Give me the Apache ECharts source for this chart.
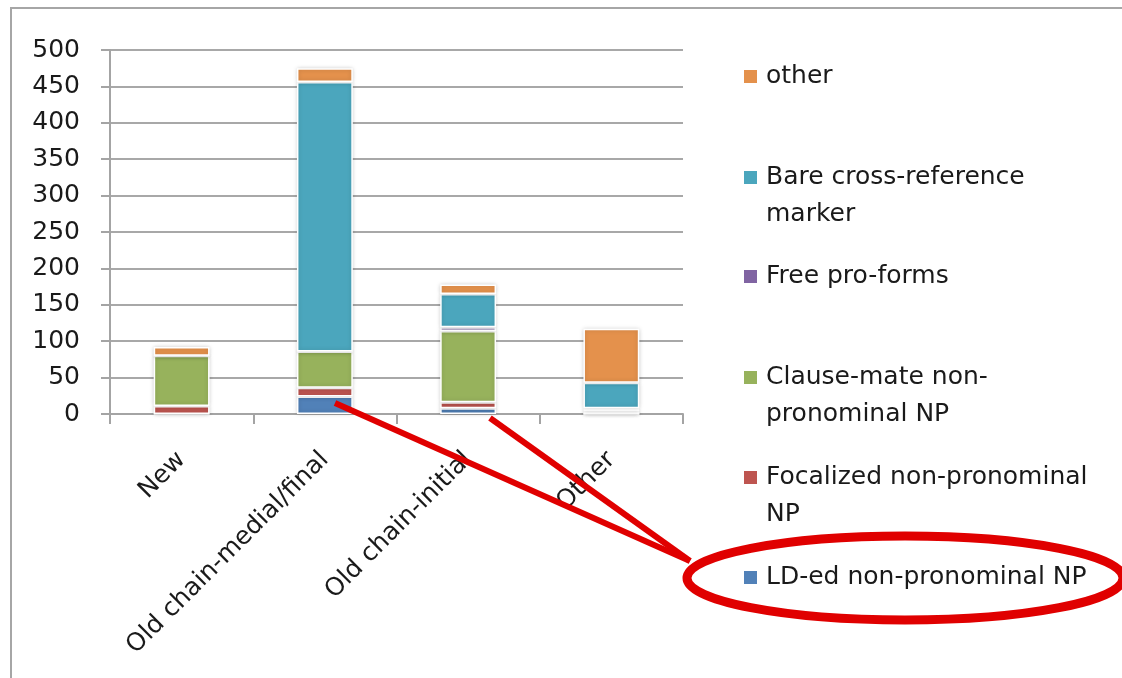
<!DOCTYPE html>
<html>
<head>
<meta charset="utf-8">
<script src="https://cdn.jsdelivr.net/npm/echarts@6/dist/echarts.min.js"></script>
<style>
  html, body { margin: 0; padding: 0; background: #fff; }
  #chart { width: 1122px; height: 678px; }
</style>
</head>
<body>
<div id="chart"></div>
<script>
// categories on the x axis
const categories = ['New', 'Old chain-medial/final', 'Old chain-initial', 'Other']

// stacked series, bottom to top
const ldEd = [0, 24, 8, 0]
const focalized = [11, 12, 8, 0]
const clauseMate = [69, 50, 98, 4]
const freeProForms = [0, 0, 5, 4]
const bareMarker = [0, 370, 46, 35]
const otherVals = [12, 19, 13, 74]

const seriesNames = [
  'LD-ed non-pronominal NP',
  'Focalized non-pronominal NP',
  'Clause-mate non-pronominal NP',
  'Free pro-forms',
  'Bare cross-reference marker',
  'other',
]
// legend text as it wraps in the picture
const legendLabels = [
  'LD-ed non-pronominal NP',
  'Focalized non-pronominal\nNP',
  'Clause-mate non-\npronominal NP',
  'Free pro-forms',
  'Bare cross-reference\nmarker',
  'other',
]
const seriesData = [ldEd, focalized, clauseMate, freeProForms, bareMarker, otherVals]
const colors = ['#5181b8', '#be5550', '#97b25c', '#8064a2', '#4ba6bd', '#e4914c']

const FONT = 'DejaVu Sans'
const LINE_H = 37
// marker top (px) of each legend entry
const markerTops = [570, 470, 370, 269, 170, 69]

const chart = echarts.init(document.getElementById('chart'))

const series = seriesNames.map((name, i) => ({
  name: name,
  type: 'bar',
  stack: 'total',
  barWidth: '39%',
  data: seriesData[i],
  itemStyle: {
    color: colors[i],
    borderColor: '#fff',
    borderWidth: 1.5,
    shadowBlur: 4,
    shadowColor: 'rgba(0,0,0,0.18)',
  },
}))

// one legend per entry so they sit evenly spaced like the original.
// two-line entries get an empty first line so the marker lines up with line 1
const legends = seriesNames.map((name, i) => {
  const twoLines = legendLabels[i].indexOf('\n') >= 0
  const label = twoLines ? ' \n' + legendLabels[i] : legendLabels[i]
  return {
    data: [name],
    left: 742,
    top: twoLines ? markerTops[i] - 48 : markerTops[i] - 11,
    orient: 'vertical',
    padding: 0,
    icon: 'rect',
    itemWidth: 15,
    itemHeight: 15,
    selectedMode: false,
    formatter: () => label,
    textStyle: {
      fontFamily: FONT,
      fontSize: 25,
      color: '#1a1a1a',
      lineHeight: LINE_H,
      padding: [0, 0, 0, 3],
    },
  }
})

const option = {
  animation: false,
  textStyle: { fontFamily: FONT },
  color: colors,
  legend: legends,
  grid: {
    left: 110,
    right: 439,
    top: 50,
    bottom: 264,
  },
  xAxis: {
    type: 'category',
    data: categories,
    axisLine: { lineStyle: { color: '#a4a4a4', width: 2 } },
    axisTick: { show: true, length: 10, lineStyle: { color: '#a4a4a4', width: 2 } },
    axisLabel: {
      interval: 0,
      rotate: 45,
      margin: 42,
      fontFamily: FONT,
      fontSize: 25,
      color: '#1a1a1a',
    },
  },
  yAxis: {
    type: 'value',
    min: 0,
    max: 500,
    interval: 50,
    axisLine: { show: true, lineStyle: { color: '#a4a4a4', width: 2 } },
    axisTick: { show: true, length: 9, lineStyle: { color: '#a4a4a4', width: 2 } },
    splitLine: { lineStyle: { color: '#a8a8a8', width: 2 } },
    axisLabel: {
      margin: 30,
      fontFamily: FONT,
      fontSize: 25,
      color: '#1a1a1a',
    },
  },
  series: series,
  graphic: [
    // frame of the original slide
    {
      type: 'polyline',
      shape: { points: [[11, 678], [11, 8], [1122, 8]] },
      style: { stroke: '#a6a6a6', lineWidth: 2, fill: null },
      z: 0,
    },
    // red hand annotation
    {
      type: 'ellipse',
      shape: { cx: 905, cy: 578, rx: 218, ry: 42 },
      style: { stroke: '#e00000', lineWidth: 9, fill: null },
      z: 100,
    },
    {
      type: 'line',
      shape: { x1: 335, y1: 403, x2: 690, y2: 561 },
      style: { stroke: '#e00000', lineWidth: 6 },
      z: 100,
    },
    {
      type: 'line',
      shape: { x1: 490, y1: 418, x2: 690, y2: 561 },
      style: { stroke: '#e00000', lineWidth: 6 },
      z: 100,
    },
  ],
}

chart.setOption(option)
</script>
</body>
</html>
